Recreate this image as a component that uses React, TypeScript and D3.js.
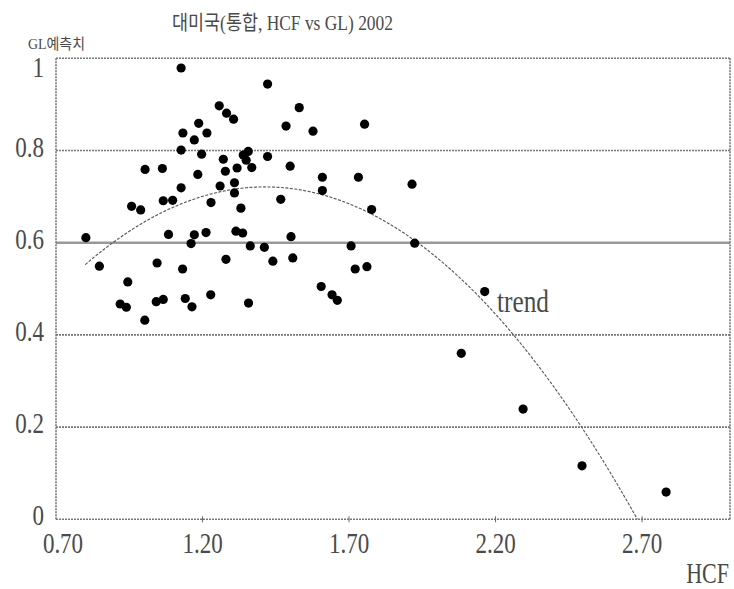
import React from "react";
import * as d3 from "d3";

// HCF (x) and predicted GL (y) for each observation, 2002
const hcf = [
  1.127, 1.422, 1.257, 1.282, 1.306, 1.53, 1.187, 1.485, 1.577, 1.753,
  1.133, 1.215, 1.172, 1.127, 1.197, 1.271, 1.339, 1.356, 1.349, 1.368,
  1.318, 1.422, 1.004, 1.063, 1.278, 1.184, 1.499, 1.609, 1.732, 1.915,
  1.309, 1.26, 1.127, 1.309, 1.609, 1.229, 1.331, 1.066, 1.098, 0.958,
  0.989, 1.467, 1.777, 0.802, 1.084, 1.172, 1.161, 1.212, 1.314, 1.337,
  1.502, 1.363, 1.411, 1.707, 1.924, 0.848, 1.045, 1.132, 1.28, 1.44,
  1.508, 1.721, 1.761, 0.945, 0.919, 0.94, 1.042, 1.066, 1.141, 1.164,
  1.228, 1.357, 1.003, 1.605, 1.642, 1.66, 2.163, 2.083, 2.294, 2.495,
  2.782,
];
const gl = [
  0.979, 0.944, 0.897, 0.881, 0.868, 0.893, 0.859, 0.853, 0.842, 0.857,
  0.838, 0.838, 0.823, 0.801, 0.792, 0.781, 0.79, 0.798, 0.779, 0.763,
  0.762, 0.787, 0.759, 0.761, 0.755, 0.748, 0.766, 0.742, 0.742, 0.727,
  0.73, 0.723, 0.719, 0.708, 0.713, 0.687, 0.675, 0.691, 0.692, 0.679,
  0.671, 0.694, 0.672, 0.611, 0.618, 0.617, 0.598, 0.622, 0.625, 0.621,
  0.613, 0.593, 0.59, 0.593, 0.599, 0.549, 0.556, 0.543, 0.564, 0.56,
  0.567, 0.543, 0.548, 0.515, 0.467, 0.46, 0.472, 0.477, 0.479, 0.461,
  0.487, 0.469, 0.432, 0.505, 0.487, 0.475, 0.494, 0.36, 0.239, 0.116,
  0.059,
];

// quadratic trend: GL = a*HCF^2 + b*HCF + c
const trendCoef = [-0.447, 1.2641, -0.1727];
const trendStart = 0.8;

const xTicks = [0.7, 1.2, 1.7, 2.2, 2.7];
const xTickLabels = ["0.70", "1.20", "1.70", "2.20", "2.70"];
const yTicks = [0, 0.2, 0.4, 0.6, 0.8, 1];
const yTickLabels = ["0", "0.2", "0.4", "0.6", "0.8", "1"];

const FONT = "'Liberation Serif', 'Noto Sans CJK KR', serif";
const INK = "#4a4a4a";

type TProps = {
  x: number;
  y: number;
  anchor?: "start" | "middle" | "end";
  size?: number;
  len?: number;
  children: React.ReactNode;
};

function Label({ x, y, anchor = "start", size = 23, len, children }: TProps) {
  return (
    <text
      transform={`translate(${x},${y}) scale(1,1.3)`}
      textAnchor={anchor}
      fontSize={size}
      fontFamily={FONT}
      fill={INK}
      textLength={len}
      lengthAdjust={len ? "spacingAndGlyphs" : undefined}
    >
      {children}
    </text>
  );
}

export default function App() {
  const W = 734;
  const H = 589;
  const left = 56;
  const right = 730;
  const top = 58.3;
  const bottom = 519.3;

  const x = d3.scaleLinear().domain([0.7, 3.0]).range([left, right]);
  const y = d3.scaleLinear().domain([0, 1]).range([bottom, top]);

  const [a, b, c] = trendCoef;
  const trendEnd = (-b - Math.sqrt(b * b - 4 * a * c)) / (2 * a);
  const trendPts = d3
    .range(0, 121)
    .map((i) => trendStart + ((trendEnd - trendStart) * i) / 120)
    .map((v) => [v, a * v * v + b * v + c] as [number, number]);
  const trendPath = d3
    .line<[number, number]>()
    .x((d) => x(d[0]))
    .y((d) => y(Math.max(0, d[1])))(trendPts);

  const dotted = { stroke: "#777", strokeWidth: 1.6, strokeDasharray: "2 1" };

  return (
    <svg
      width={W}
      height={H}
      style={{ position: "absolute", left: 0, top: 0, background: "#fff" }}
    >
      <rect x={0} y={0} width={W} height={H} fill="#fff" />

      {/* title */}
      <Label x={172} y={30} size={16} len={221}>
        대미국(통합, HCF vs GL) 2002
      </Label>
      {/* y axis title */}
      <Label x={28} y={49} size={11.5} len={57}>
        GL예측치
      </Label>

      {/* horizontal grid */}
      {yTicks.map((t) =>
        t === 0.6 ? (
          <line
            key={t}
            x1={left}
            x2={right}
            y1={y(t)}
            y2={y(t)}
            stroke="#999"
            strokeWidth={2.4}
          />
        ) : (
          <line key={t} x1={left} x2={right} y1={y(t)} y2={y(t)} {...dotted} />
        )
      )}
      {/* frame verticals */}
      <line x1={left} x2={left} y1={top} y2={bottom} {...dotted} />
      <line x1={right} x2={right} y1={top} y2={bottom} {...dotted} />

      {/* x ticks */}
      {xTicks.slice(1).map((t) => (
        <line
          key={t}
          x1={x(t)}
          x2={x(t)}
          y1={bottom - 3}
          y2={bottom + 3}
          stroke="#666"
          strokeWidth={1}
        />
      ))}

      {/* tick labels */}
      {xTicks.map((t, i) => (
        <Label key={t} x={x(t) + (i === 0 ? 7 : 0)} y={553} anchor="middle">
          {xTickLabels[i]}
        </Label>
      ))}
      {yTicks.map((t, i) => (
        <Label key={t} x={44} y={t === 1 ? 77 : y(t) + 6} anchor="end">
          {yTickLabels[i]}
        </Label>
      ))}
      <Label x={729} y={583} anchor="end" size={22}>
        HCF
      </Label>

      {/* trend */}
      <path
        d={trendPath ?? ""}
        fill="none"
        stroke="#555"
        strokeWidth={1.1}
        strokeDasharray="3 1.5"
      />
      <Label x={497} y={312} size={24} len={52}>
        trend
      </Label>

      {/* observations */}
      {hcf.map((v, i) => (
        <circle key={i} cx={x(v)} cy={y(gl[i])} r={4.6} fill="#000" />
      ))}
    </svg>
  );
}
